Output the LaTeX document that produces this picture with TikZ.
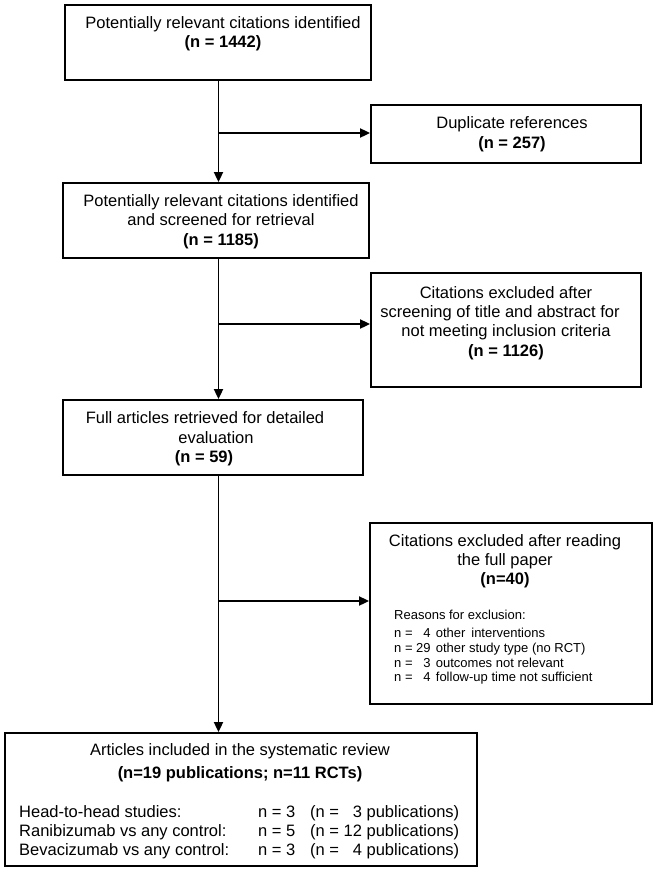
\documentclass[tikz,border=0pt]{standalone}
\usepackage{fontspec}
\setmainfont{Liberation Sans}
\usetikzlibrary{arrows.meta}
\begin{document}
\begin{tikzpicture}[x=1pt,y=-1pt,
  box/.style={draw, line width=1.8pt, inner sep=0pt},
  txt/.style={anchor=base, inner sep=0pt, font=\fontsize{16.5}{19.5}\selectfont},
  txtw/.style={anchor=base west, inner sep=0pt, font=\fontsize{16.5}{19.5}\selectfont},
  sml/.style={anchor=base west, inner sep=0pt, font=\fontsize{13}{15}\selectfont},
  arr/.style={line width=1.8pt, -{Triangle[length=10pt,width=9pt]}}]
\useasboundingbox (0,0) rectangle (657,871);

% boxes
\node[box, minimum width=306pt, minimum height=75pt]  (b1) at (218,42.5) {};
\node[box, minimum width=270pt, minimum height=58pt]  (b2) at (506,134) {};
\node[box, minimum width=306pt, minimum height=75pt]  (b3) at (216,220.5) {};
\node[box, minimum width=270pt, minimum height=114pt] (b4) at (506,330) {};
\node[box, minimum width=300pt, minimum height=75pt]  (b5) at (213,437.5) {};
\node[box, minimum width=282pt, minimum height=181pt] (b6) at (511,613.5) {};
\node[box, minimum width=472pt, minimum height=133pt] (b7) at (241,799.5) {};

% texts
\node[txt] (t1a) at (223,28) {Potentially relevant citations identified};
\node[txt] (t1b) at (223,47) {\bfseries (n = 1442)};

\node[txt] (t2a) at (512,128) {Duplicate references};
\node[txt] (t2b) at (512,148) {\bfseries (n = 257)};

\node[txt] (t3a) at (221,206) {Potentially relevant citations identified};
\node[txt] (t3b) at (221,225) {and screened for retrieval};
\node[txt] (t3c) at (221,245) {\bfseries (n = 1185)};

\node[txt] (t4a) at (506,298) {Citations excluded after};
\node[txt] (t4b) at (500,317) {screening of title and abstract for};
\node[txt] (t4c) at (506,336) {not meeting inclusion criteria};
\node[txt] (t4d) at (506,356) {\bfseries (n = 1126)};

\node[txt] (t5a) at (205,423) {Full articles retrieved for detailed};
\node[txt] (t5b) at (216,443) {evaluation};
\node[txt] (t5c) at (204,462) {\bfseries (n = 59)};

\node[txt] (t6a) at (505,546) {Citations excluded after reading};
\node[txt] (t6b) at (505,565) {the full paper};
\node[txt] (t6c) at (505,584) {\bfseries (n=40)};
\node[sml] (t6d) at (394,619) {Reasons for exclusion:};
\node[sml] (t6e) at (394,637) {n = \phantom{0}4\hspace{0.4em}other\hspace{0.45em}interventions};
\node[sml] (t6f) at (394,652) {n = 29\hspace{0.4em}other study type (no RCT)};
\node[sml] (t6g) at (394,667) {n = \phantom{0}3\hspace{0.4em}outcomes not relevant};
\node[sml] (t6h) at (394,681) {n = \phantom{0}4\hspace{0.4em}follow-up time not sufficient};

\node[txt] (t7a) at (240,755) {Articles included in the systematic review};
\node[txt] (t7b) at (240,778) {\bfseries (n=19 publications; n=11 RCTs)};
\node[txtw] (r1a) at (19,817) {Head-to-head studies:};
\node[txtw] (r1b) at (258,817) {n = 3};
\node[txtw] (r1c) at (310,817) {(n = \phantom{0}3 publications)};
\node[txtw] (r2a) at (19,836) {Ranibizumab vs any control:};
\node[txtw] (r2b) at (258,836) {n = 5};
\node[txtw] (r2c) at (310,836) {(n = 12 publications)};
\node[txtw] (r3a) at (19,855) {Bevacizumab vs any control:};
\node[txtw] (r3b) at (258,855) {n = 3};
\node[txtw] (r3c) at (310,855) {(n = \phantom{0}4 publications)};

% connectors
\coordinate (j1) at (218.5,133);
\coordinate (j2) at (218.5,324);
\coordinate (j3) at (218.5,601);
\draw[arr] (b1.south -| j1) -- (b3.north -| j1);
\draw[arr] (j1) -- (j1 -| b2.west);
\draw[arr] (b3.south -| j2) -- (b5.north -| j2);
\draw[arr] (j2) -- (j2 -| b4.west);
\draw[arr] (b5.south -| j3) -- (b7.north -| j3);
\draw[arr] (j3) -- (j3 -| b6.west);
\end{tikzpicture}
\end{document}
